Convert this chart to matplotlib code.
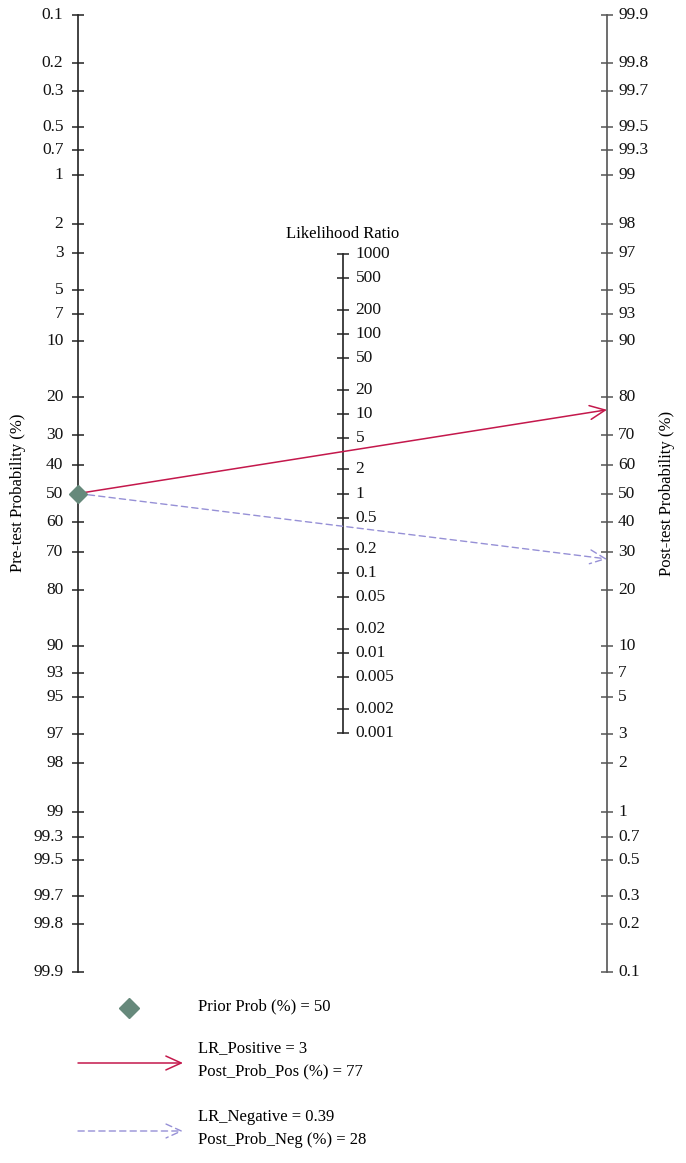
import numpy as np
import matplotlib
matplotlib.use('Agg')
import matplotlib.pyplot as plt

plt.rcParams['font.family'] = ['Liberation Serif', 'DejaVu Serif']

# probability scale ticks (%), shared by both outer axes
prob_ticks = [0.1, 0.2, 0.3, 0.5, 0.7, 1, 2, 3, 5, 7, 10, 20, 30, 40, 50,
              60, 70, 80, 90, 93, 95, 97, 98, 99, 99.3, 99.5, 99.7, 99.8, 99.9]
lr_ticks = [1000, 500, 200, 100, 50, 20, 10, 5, 2, 1, 0.5, 0.2, 0.1,
            0.05, 0.02, 0.01, 0.005, 0.002, 0.001]

prior = 50
lr_pos = 3
lr_neg = 0.39
post_pos = 77
post_neg = 28

RED = '#c4184c'
LAV = '#9690d6'
DIAM = '#66897b'
FS = 12
TFS = 12.5


def logit(p):
    p = np.asarray(p, dtype=float) / 100
    return np.log(p / (1 - p))


def fmt(v):
    return '%g' % v


LIM = float(logit(99.9))

fig = plt.figure(figsize=(6.86, 11.63), dpi=100)
W, H = 686, 1163
x_left, x_right = 78, 607
y_top, y_bot = 15, 972
ax = fig.add_axes([x_left / W, 1 - y_bot / H, (x_right - x_left) / W, (y_bot - y_top) / H])
ax.set_xlim(0, 1)
ax.set_ylim(-LIM, LIM)
ax.axis('off')

# left axis: pre-test probability (top = low prob)
v_left = -logit(prob_ticks)
ax.plot([0, 0], [-LIM, LIM], color='#222222', lw=1.2, clip_on=False)
ax.plot(np.zeros(len(prob_ticks)), v_left, ls='none', marker='_', ms=8, mew=1.1,
        color='#222222', clip_on=False)
for p, v in zip(prob_ticks, v_left):
    ax.annotate(fmt(p), (0, v), xytext=(-10.5, 0), textcoords='offset points',
                ha='right', va='center', fontsize=TFS, color='#111111')

# right axis: post-test probability (top = high prob)
v_right = logit(prob_ticks)
ax.plot([1, 1], [-LIM, LIM], color='#555555', lw=1.2, clip_on=False)
ax.plot(np.ones(len(prob_ticks)), v_right, ls='none', marker='_', ms=8, mew=1.1,
        color='#555555', clip_on=False)
for p, v in zip(prob_ticks, v_right):
    ax.annotate(fmt(p), (1, v), xytext=(8, 0), textcoords='offset points',
                ha='left', va='center', fontsize=TFS, color='#111111')

# middle axis: likelihood ratio
v_mid = np.log(lr_ticks) / 2
ax.plot([0.5, 0.5], [v_mid.min(), v_mid.max()], color='#222222', lw=1.2)
ax.plot(np.full(len(lr_ticks), 0.5), v_mid, ls='none', marker='_', ms=9, mew=1.1,
        color='#222222')
for r, v in zip(lr_ticks, v_mid):
    ax.annotate(fmt(r), (0.5, v), xytext=(9.5, 0), textcoords='offset points',
                ha='left', va='center', fontsize=TFS, color='#111111')
ax.annotate('Likelihood Ratio', (0.5, v_mid.max()), xytext=(0, 9),
            textcoords='offset points', ha='center', va='bottom', fontsize=FS)

# lines
v0 = float(-logit(prior))
ax.annotate('', xy=(1, float(logit(post_pos))), xytext=(0, v0),
            arrowprops=dict(arrowstyle='->,head_length=1.1,head_width=0.5',
                            color=RED, lw=1.1, mutation_scale=10,
                            shrinkA=0, shrinkB=0))
ax.annotate('', xy=(1, float(logit(post_neg))), xytext=(0, v0),
            arrowprops=dict(arrowstyle='->,head_length=1.1,head_width=0.5',
                            color=LAV, lw=1.0, ls=(0, (4.5, 3)), mutation_scale=10,
                            shrinkA=0, shrinkB=0))
ax.plot([0], [v0], marker='D', ms=9.5, color=DIAM, clip_on=False, zorder=5)

fig.text(18 / W, 1 - 493 / H, 'Pre-test Probability (%)', rotation=90,
         ha='center', va='center', fontsize=FS)
fig.text(667 / W, 1 - 493 / H, 'Post-test Probability (%)', rotation=90,
         ha='center', va='center', fontsize=FS)

# legend block
lg = fig.add_axes([0, 0, 1, 1 - 985 / H])
lg.set_xlim(0, W)
lg.set_ylim(H, 985)
lg.axis('off')
lg.plot([129], [1008], marker='D', ms=10.5, color=DIAM)
lg.text(198, 1006, f'Prior Prob (%) = {prior:g}', ha='left', va='center', fontsize=FS)
lg.annotate('', xy=(183, 1063), xytext=(78, 1063),
            arrowprops=dict(arrowstyle='->,head_length=1.1,head_width=0.5',
                            color=RED, lw=1.1, mutation_scale=10, shrinkA=0, shrinkB=0))
lg.text(198, 1048, f'LR_Positive = {lr_pos:g}', ha='left', va='center', fontsize=FS)
lg.text(198, 1071, f'Post_Prob_Pos (%) = {post_pos:g}', ha='left', va='center', fontsize=FS)
lg.annotate('', xy=(183, 1131), xytext=(78, 1131),
            arrowprops=dict(arrowstyle='->,head_length=1.1,head_width=0.5',
                            color=LAV, lw=1.0, ls=(0, (4.5, 3)), mutation_scale=10,
                            shrinkA=0, shrinkB=0))
lg.text(198, 1117, f'LR_Negative = {lr_neg:g}', ha='left', va='center', fontsize=FS)
lg.text(198, 1140, f'Post_Prob_Neg (%) = {post_neg:g}', ha='left', va='center', fontsize=FS)

fig.savefig('out.png', dpi=100)
